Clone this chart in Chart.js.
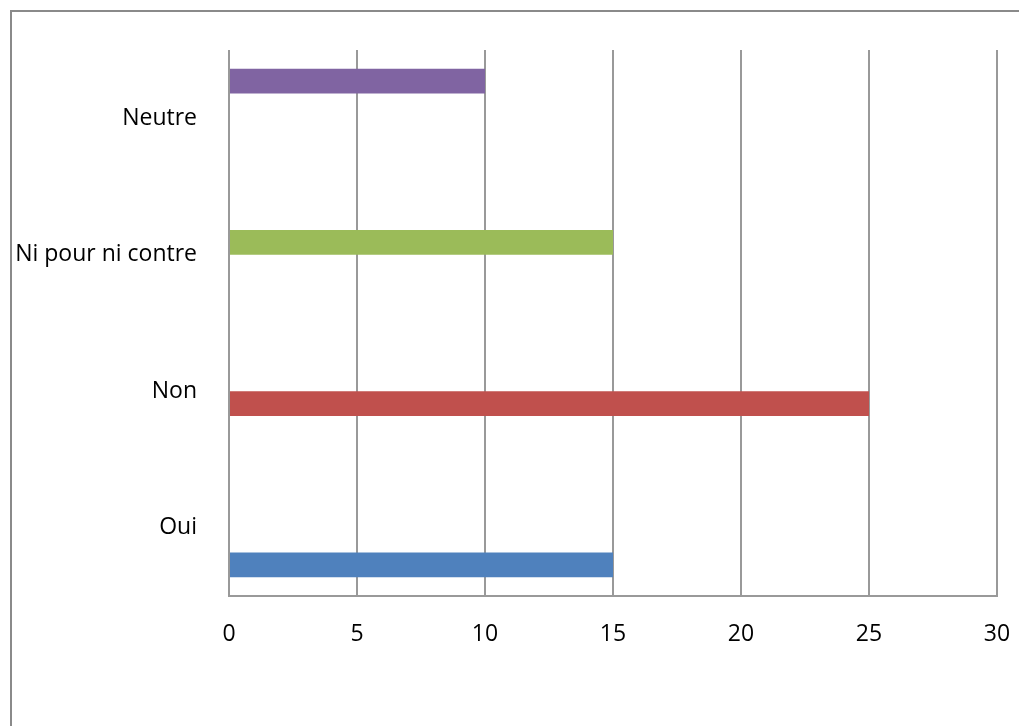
<!DOCTYPE html>
<html>
<head>
<meta charset="utf-8">
<script src="https://cdn.jsdelivr.net/npm/chart.js@4/dist/chart.umd.min.js"></script>
<style>
    html, body { margin: 0; padding: 0; background: #fff; }
    #wrap { position: absolute; left: 0; top: 0; width: 1019px; height: 726px; }
</style>
</head>
<body>
<div id="wrap"><canvas id="barchart" width="1019" height="726"></canvas></div>
<script>
// categories, top to bottom as drawn
const categories = ['Neutre', 'Ni pour ni contre', 'Non', 'Oui'];

// one series per answer, each only has a value in its own row
const neutreValues = [10, null, null, null];
const niPourValues = [null, 15, null, null];
const nonValues = [null, null, 25, null];
const ouiValues = [null, null, null, 15];

const xTicks = [0, 5, 10, 15, 20, 25, 30];

const fontFamily = "'Open Sans', 'Liberation Sans', sans-serif";

// grey frame like the Excel chart area border
const framePlugin = {
    id: 'frame',
    beforeDraw: (chart) => {
        const ctx = chart.ctx;
        ctx.save();
        ctx.strokeStyle = '#8a8a8a';
        ctx.lineWidth = 2;
        ctx.beginPath();
        ctx.moveTo(11, 726);
        ctx.lineTo(11, 11);
        ctx.lineTo(1019, 11);
        ctx.stroke();
        ctx.restore();
    }
};

var ctx = document.getElementById('barchart').getContext('2d');
new Chart(ctx, {
    type: 'bar',
    data: {
        labels: categories,
        datasets: [
            { label: 'Neutre', data: neutreValues, backgroundColor: '#8064A2' },
            { label: 'Ni pour ni contre', data: niPourValues, backgroundColor: '#9BBB59' },
            { label: 'Non', data: nonValues, backgroundColor: '#C0504D' },
            { label: 'Oui', data: ouiValues, backgroundColor: '#4F81BD' }
        ]
    },
    options: {
        indexAxis: 'y',
        responsive: false,
        animation: false,
        categoryPercentage: 0.727,
        barPercentage: 1,
        layout: { padding: { top: 50, right: 22, left: 0, bottom: 0 } },
        plugins: {
            legend: { display: false },
            tooltip: { enabled: false }
        },
        scales: {
            x: {
                min: 0,
                max: 30,
                afterBuildTicks: (scale) => { scale.ticks = xTicks.map(v => ({ value: v })); },
                afterFit: (scale) => {
                    scale.height = 130;
                    scale.paddingLeft = 0;
                    scale.paddingRight = 0;
                },
                grid: { color: '#999999', lineWidth: 2, drawTicks: false },
                border: { color: '#999999', width: 2 },
                ticks: {
                    padding: 25,
                    color: '#000',
                    font: { family: fontFamily, size: 23 }
                }
            },
            y: {
                afterFit: (scale) => { scale.width = 229; },
                grid: { display: false, drawTicks: false },
                border: { display: false },
                ticks: {
                    padding: 32,
                    color: '#000',
                    font: { family: fontFamily, size: 23 }
                }
            }
        }
    },
    plugins: [framePlugin]
});
</script>
</body>
</html>
